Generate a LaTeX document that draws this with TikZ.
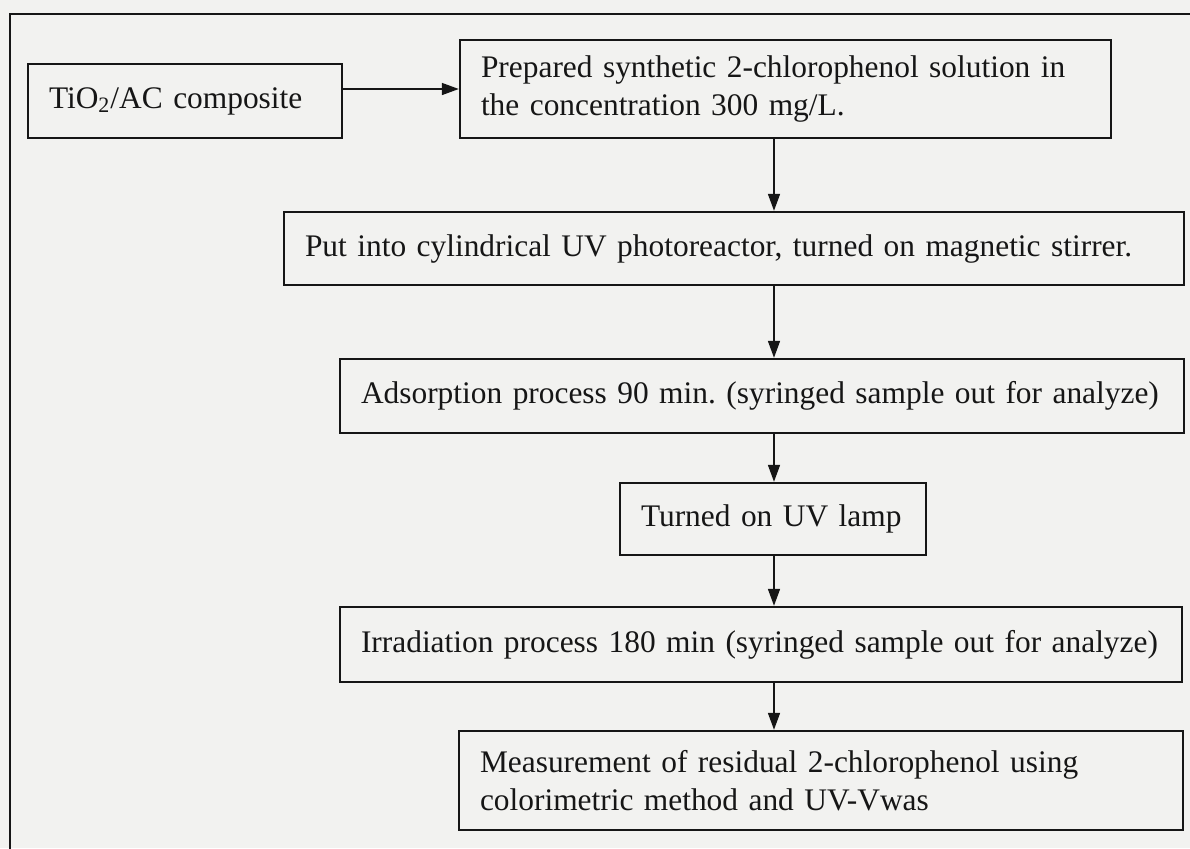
\documentclass[tikz,border=0pt]{standalone}
\usepackage{fontspec}
\setmainfont{Liberation Serif}
\usetikzlibrary{arrows.meta}
\definecolor{paper}{RGB}{242,242,240}
\definecolor{ink}{RGB}{22,22,22}
\tikzset{
  stepbox/.style={draw=ink, text=ink, line width=1.2pt, align=left, inner xsep=10.5pt, inner ysep=0pt,
    font=\fontsize{15.7pt}{19pt}\selectfont},
  arr/.style={draw=ink, line width=0.8pt, -{Triangle[length=8.5pt,width=6pt]}},
  frame/.style={draw=ink, line width=1pt}
}
\begin{document}
\begin{tikzpicture}[x=0.5pt, y=-0.5pt]
\useasboundingbox (0,0) rectangle (1190,848);
\fill[paper] (0,0) rectangle (1190,848);
\draw[frame] (10,850) -- (10,14) -- (1192,14);

\node[stepbox, text width=136pt, minimum height=37pt] (b1) at (185,101) {\mbox{TiO\textsubscript{2}/AC composite}};
\node[stepbox, text width=304.5pt, minimum height=49pt] (b2) at (785.5,89) {\mbox{Prepared synthetic 2-chlorophenol solution in}\\\mbox{the concentration 300 mg/L.}};
\node[stepbox, text width=429pt, minimum height=36.5pt] (b3) at (734,248.5) {\mbox{Put into cylindrical UV photoreactor, turned on magnetic stirrer.}};
\node[stepbox, text width=401pt, minimum height=37pt] (b4) at (762,396) {\mbox{Adsorption process 90 min.\ (syringed sample out for analyze)}};
\node[stepbox, text width=132pt, minimum height=36pt] (b5) at (773,519) {\mbox{Turned on UV lamp}};
\node[stepbox, text width=400pt, minimum height=37.5pt] (b6) at (761,644.5) {\mbox{Irradiation process 180 min (syringed sample out for analyze)}};
\node[stepbox, text width=341pt, minimum height=49.5pt] (b7) at (821,780.5) {\mbox{Measurement of residual 2-chlorophenol using}\\\mbox{colorimetric method and UV-Vwas}};

\coordinate (col) at (774,0);
\draw[arr] (b1.east |- b2.west) -- (b2.west);
\draw[arr] (b2.south -| col) -- (b3.north -| col);
\draw[arr] (b3.south -| col) -- (b4.north -| col);
\draw[arr] (b4.south -| col) -- (b5.north -| col);
\draw[arr] (b5.south -| col) -- (b6.north -| col);
\draw[arr] (b6.south -| col) -- (b7.north -| col);
\end{tikzpicture}
\end{document}
